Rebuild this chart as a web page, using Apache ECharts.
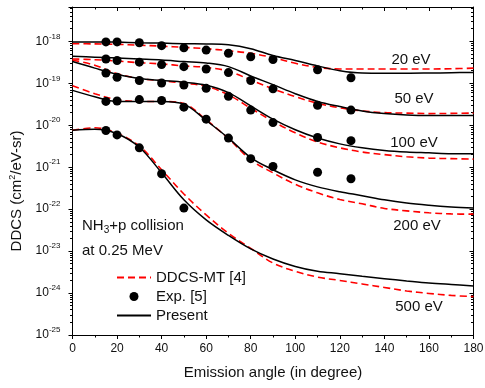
<!DOCTYPE html>
<html>
<head>
<meta charset="utf-8">
<script src="https://cdn.jsdelivr.net/npm/echarts@6/dist/echarts.min.js"></script>
<style>
  html, body { margin: 0; padding: 0; background: #fff; }
  #chart { width: 485px; height: 388px; }
</style>
</head>
<body>
<div id="chart"></div>
<script>
// emission angles (degree) for the calculated curves
const angles = [0, 10, 20, 30, 40, 50, 60, 70, 80, 90, 100, 110, 120, 130, 140, 150, 160, 170, 180];

// Present calculation (solid black)
const present20  = [9.7e-19, 9.7e-19, 9.6e-19, 9.3e-19, 9.1e-19, 8.8e-19, 8.7e-19, 8.3e-19, 6.7e-19, 4.6e-19, 3.5e-19, 2.6e-19, 2.0e-19, 1.76e-19, 1.74e-19, 1.74e-19, 1.76e-19, 1.79e-19, 1.82e-19];
const present50  = [4.4e-19, 4.2e-19, 4.0e-19, 3.8e-19, 3.6e-19, 3.3e-19, 3.05e-19, 2.5e-19, 1.5e-19, 9.3e-20, 5.65e-20, 3.7e-20, 2.8e-20, 2.2e-20, 1.9e-20, 1.75e-20, 1.7e-20, 1.7e-20, 1.7e-20];
const present100 = [3.3e-19, 2.3e-19, 1.65e-19, 1.3e-19, 1.17e-19, 1.06e-19, 9.0e-20, 6.0e-20, 2.9e-20, 1.4e-20, 7.8e-21, 4.95e-21, 3.6e-21, 2.9e-21, 2.5e-21, 2.3e-21, 2.2e-21, 2.1e-21, 2.1e-21];
const present200 = [6.8e-20, 4.8e-20, 3.7e-20, 3.7e-20, 3.7e-20, 3.2e-20, 1.3e-20, 4.95e-21, 1.7e-21, 8.7e-22, 5.0e-22, 3.4e-22, 2.6e-22, 2.1e-22, 1.67e-22, 1.4e-22, 1.24e-22, 1.13e-22, 1.06e-22];
const present500 = [7.6e-21, 8.0e-21, 6.3e-21, 3.0e-21, 7.35e-22, 1.67e-22, 5.55e-23, 2.37e-23, 1.13e-23, 6.5e-24, 4.3e-24, 3.3e-24, 2.9e-24, 2.5e-24, 2.2e-24, 1.95e-24, 1.74e-24, 1.6e-24, 1.48e-24];

// DDCS-MT [4] (red dashed)
const mt20  = [8.8e-19, 8.7e-19, 8.5e-19, 8.1e-19, 7.7e-19, 7.2e-19, 6.7e-19, 6.0e-19, 5.2e-19, 4.1e-19, 3.0e-19, 2.4e-19, 2.2e-19, 2.2e-19, 2.2e-19, 2.2e-19, 2.2e-19, 2.23e-19, 2.3e-19];
const mt50  = [3.8e-19, 3.66e-19, 3.4e-19, 3.1e-19, 2.9e-19, 2.6e-19, 2.4e-19, 1.95e-19, 1.2e-19, 7.4e-20, 4.8e-20, 3.35e-20, 2.6e-20, 2.2e-20, 2.0e-20, 1.95e-20, 1.9e-20, 1.92e-20, 1.95e-20];
const mt100 = [3.6e-19, 2.7e-19, 1.7e-19, 1.3e-19, 1.15e-19, 1.0e-19, 8.5e-20, 5.3e-20, 2.55e-20, 1.24e-20, 6.6e-21, 4.0e-21, 2.9e-21, 2.3e-21, 2.0e-21, 1.77e-21, 1.65e-21, 1.6e-21, 1.56e-21];
const mt200 = [8.8e-20, 5.65e-20, 4.1e-20, 3.7e-20, 3.7e-20, 3.3e-20, 1.35e-20, 4.8e-21, 1.5e-21, 7.35e-22, 3.9e-22, 2.45e-22, 1.7e-22, 1.34e-22, 1.04e-22, 9.1e-23, 8.2e-23, 7.7e-23, 7.6e-23];
const mt500 = [7.6e-21, 8.7e-21, 6.4e-21, 3.2e-21, 8.7e-22, 2.3e-22, 7.3e-23, 2.65e-23, 1.16e-23, 5.2e-24, 3.3e-24, 2.4e-24, 2.0e-24, 1.65e-24, 1.36e-24, 1.12e-24, 9.8e-25, 8.8e-25, 8.2e-25];

// Exp. [5] (dots)
const expAngles = [15, 20, 30, 40, 50, 60, 70, 80, 90, 110, 125];
const exp20  = [9.7e-19, 9.7e-19, 9.3e-19, 7.9e-19, 7.0e-19, 6.2e-19, 5.2e-19, 4.3e-19, 3.7e-19, 2.1e-19, 1.36e-19];
const exp50  = [3.8e-19, 3.5e-19, 3.2e-19, 2.8e-19, 2.5e-19, 2.2e-19, 1.8e-19, 1.17e-19, 7.4e-20, 3.0e-20, 2.3e-20];
const exp100 = [1.76e-19, 1.4e-19, 1.17e-19, 1.02e-19, 9.1e-20, 7.6e-20, 4.9e-20, 2.3e-20, 1.16e-20, 5.1e-21, 4.3e-21];
const exp200 = [3.7e-20, 3.8e-20, 4.1e-20, 3.9e-20, 2.7e-20, 1.4e-20, 4.95e-21, 1.6e-21, 1.04e-21, 7.6e-22, 5.3e-22];
const exp500Angles = [15, 20, 30, 40, 50];
const exp500 = [7.5e-21, 5.9e-21, 2.9e-21, 7.0e-22, 1.06e-22];

const energyLabels = ['20 eV', '50 eV', '100 eV', '200 eV', '500 eV'];

// log axis loses precision below 1e-10, so plot in units of 1e-25 cm^2/eV-sr
const UNIT = 1e25;
const yMin = 1e-25, yMax = 6.6e-18;
const FONT = 'Liberation Sans, Arial, sans-serif';
const TXT = '#111';

const pts = (xs, ys) => xs.map((x, i) => [x, ys[i] * UNIT]);

function curve(name, ys, dashed) {
  return {
    name: name,
    type: 'line',
    data: pts(angles, ys),
    smooth: 0.35,
    symbol: 'none',
    showSymbol: false,
    silent: true,
    z: dashed ? 2 : 3,
    lineStyle: dashed ? { color: '#ff0000', width: 1.6, type: [7, 4] } : { color: '#000', width: 1.5 },
    itemStyle: { color: dashed ? '#ff0000' : '#000' }
  };
}
function dots(xs, ys) {
  return {
    name: 'Exp. [5]',
    type: 'scatter',
    data: pts(xs, ys),
    symbol: 'circle',
    symbolSize: 9,
    silent: true,
    z: 4,
    itemStyle: { color: '#000', opacity: 1 }
  };
}

const series = [
  curve('DDCS-MT [4]', mt20, true), curve('DDCS-MT [4]', mt50, true), curve('DDCS-MT [4]', mt100, true),
  curve('DDCS-MT [4]', mt200, true), curve('DDCS-MT [4]', mt500, true),
  curve('Present', present20, false), curve('Present', present50, false), curve('Present', present100, false),
  curve('Present', present200, false), curve('Present', present500, false),
  dots(expAngles, exp20), dots(expAngles, exp50), dots(expAngles, exp100), dots(expAngles, exp200),
  dots(exp500Angles, exp500)
];

function yLabel(v) {
  const e = Math.log10(v / UNIT);
  if (Math.abs(e - Math.round(e)) > 1e-6) return '';
  return '{b|10}{s|' + Math.round(e) + '}';
}

const xBase = {
  type: 'value', min: 0, max: 180, interval: 20,
  splitLine: { show: false },
  axisLine: { show: true, onZero: false, lineStyle: { color: '#000', width: 1 } },
  minorTick: { show: true, splitNumber: 2, length: 2.5, lineStyle: { color: '#000' } }
};
const yBase = {
  type: 'log', logBase: 10, min: yMin * UNIT, max: yMax * UNIT,
  splitLine: { show: false },
  axisLine: { show: true, onZero: false, lineStyle: { color: '#000', width: 1 } },
  minorTick: { show: true, splitNumber: 9, length: 2.5, lineStyle: { color: '#000' } }
};

const hideSymbol = { color: 'rgba(0,0,0,0)', borderWidth: 0, opacity: 0 };

const chart = echarts.init(document.getElementById('chart'));
chart.setOption({
  animation: false,
  backgroundColor: '#fff',
  textStyle: { fontFamily: FONT },
  grid: { left: 72.5, right: 11.5, top: 7, bottom: 53, outerBoundsMode: 'none', containLabel: false },
  xAxis: [
    Object.assign({}, xBase, {
      position: 'bottom',
      axisTick: { show: true, inside: false, length: 4, lineStyle: { color: '#000' } },
      axisLabel: { fontSize: 12, color: TXT, margin: 8, fontFamily: FONT },
      name: 'Emission angle (in degree)',
      nameLocation: 'middle',
      nameGap: 30,
      nameTextStyle: { fontSize: 15, color: TXT, fontFamily: FONT }
    }),
    Object.assign({}, xBase, {
      position: 'top',
      axisTick: { show: true, inside: true, length: 4, lineStyle: { color: '#000' } },
      axisLabel: { show: false }
    })
  ],
  yAxis: [
    Object.assign({}, yBase, {
      position: 'left',
      axisTick: { show: true, inside: false, length: 4, lineStyle: { color: '#000' } },
      axisLabel: {
        margin: 12, showMaxLabel: false, color: TXT, formatter: yLabel,
        rich: {
          b: { fontSize: 12, color: TXT, fontFamily: FONT },
          s: { fontSize: 8, color: TXT, fontFamily: FONT, padding: [0, 0, 10, 0] }
        }
      },
      name: 'DDCS (cm{sup|2}/eV-sr)',
      nameLocation: 'middle',
      nameGap: 42,
      nameTextStyle: {
        fontSize: 15, color: TXT, fontFamily: FONT, padding: [0, 40, 0, 0],
        rich: { sup: { fontSize: 9, color: TXT, fontFamily: FONT, padding: [0, 0, 9, 0] } }
      }
    }),
    Object.assign({}, yBase, {
      position: 'right',
      axisTick: { show: true, inside: true, length: 4, lineStyle: { color: '#000' } },
      axisLabel: { show: false }
    })
  ],
  legend: {
    orient: 'vertical',
    left: 116, top: 270, padding: 0,
    itemWidth: 34, itemHeight: 9, itemGap: 4,
    data: [
      { name: 'DDCS-MT [4]', itemStyle: hideSymbol },
      { name: 'Exp. [5]' },
      { name: 'Present', itemStyle: hideSymbol }
    ],
    textStyle: { fontSize: 15, color: TXT, fontFamily: FONT, lineHeight: 15 },
    selectedMode: false
  },
  graphic: [
    { type: 'text', style: { text: energyLabels[0], x: 411, y: 60, align: 'center', verticalAlign: 'middle', textAlign: 'center', textVerticalAlign: 'middle', fontSize: 15, fontFamily: FONT, fill: TXT } },
    { type: 'text', style: { text: energyLabels[1], x: 414, y: 99, align: 'center', verticalAlign: 'middle', textAlign: 'center', textVerticalAlign: 'middle', fontSize: 15, fontFamily: FONT, fill: TXT } },
    { type: 'text', style: { text: energyLabels[2], x: 414, y: 143, align: 'center', verticalAlign: 'middle', textAlign: 'center', textVerticalAlign: 'middle', fontSize: 15, fontFamily: FONT, fill: TXT } },
    { type: 'text', style: { text: energyLabels[3], x: 417, y: 226, align: 'center', verticalAlign: 'middle', textAlign: 'center', textVerticalAlign: 'middle', fontSize: 15, fontFamily: FONT, fill: TXT } },
    { type: 'text', style: { text: energyLabels[4], x: 419, y: 307, align: 'center', verticalAlign: 'middle', textAlign: 'center', textVerticalAlign: 'middle', fontSize: 15, fontFamily: FONT, fill: TXT } },
    { type: 'text', style: {
        text: 'NH{sub|3}+p collision', x: 82, y: 226, align: 'left', verticalAlign: 'middle', textAlign: 'left', textVerticalAlign: 'middle',
        fontSize: 15, fontFamily: FONT, fill: TXT,
        rich: { sub: { fontSize: 10, fontFamily: FONT, fill: TXT, padding: [8, 0, 0, 0] } }
    } },
    { type: 'text', style: { text: 'at 0.25 MeV', x: 82, y: 251, align: 'left', verticalAlign: 'middle', textAlign: 'left', textVerticalAlign: 'middle', fontSize: 15, fontFamily: FONT, fill: TXT } }
  ],
  series: series
});
</script>
</body>
</html>
